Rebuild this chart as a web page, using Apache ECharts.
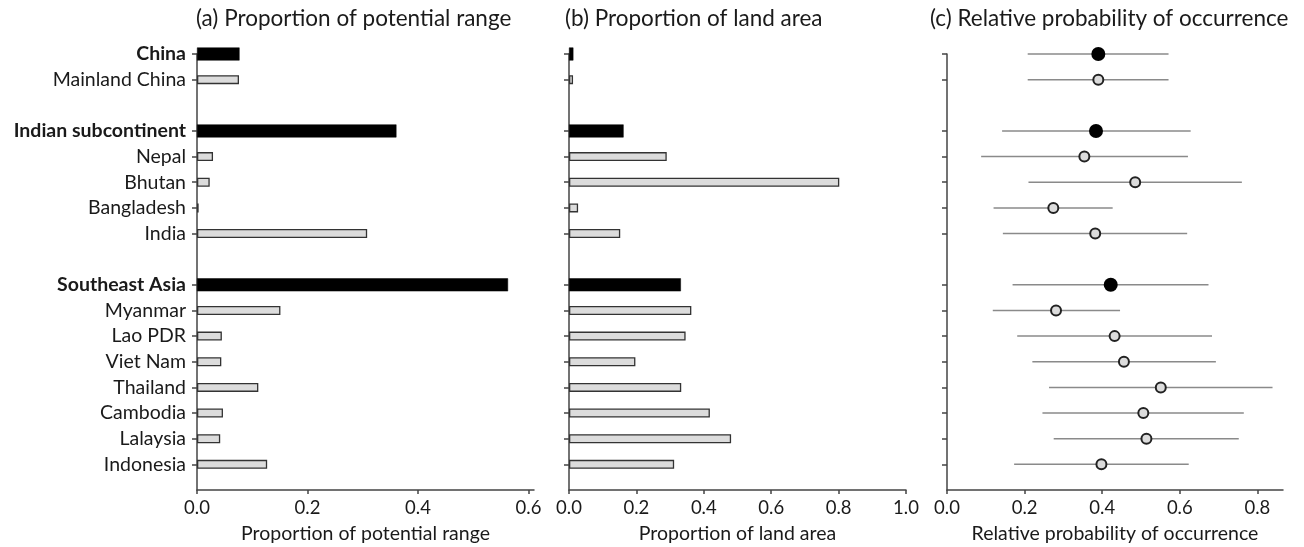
<!DOCTYPE html>
<html>
<head>
<meta charset="utf-8">
<script src="https://cdn.jsdelivr.net/npm/echarts@6/dist/echarts.min.js"></script>
<style>html,body{margin:0;padding:0;background:#fff;}#c{width:1304px;height:547px;}</style>
</head>
<body>
<div id="c"></div>
<script>
// Rows from top to bottom; blank strings are spacer rows between groups
const categories = ['China', 'Mainland China', ' ', 'Indian subcontinent', 'Nepal', 'Bhutan', 'Bangladesh', 'India', '  ', 'Southeast Asia', 'Myanmar', 'Lao PDR', 'Viet Nam', 'Thailand', 'Cambodia', 'Lalaysia', 'Indonesia', '   '];
const regionRows = ['China', 'Indian subcontinent', 'Southeast Asia'];
// (a) Proportion of potential range
const potentialRange = [0.077, 0.076, null, 0.361, 0.029, 0.023, 0.003, 0.308, null, 0.563, 0.151, 0.045, 0.044, 0.111, 0.047, 0.042, 0.127, null];
// (b) Proportion of land area
const landArea = [0.013, 0.012, null, 0.162, 0.290, 0.802, 0.027, 0.152, null, 0.332, 0.363, 0.346, 0.197, 0.333, 0.418, 0.481, 0.312, null];
// (c) Relative probability of occurrence: estimate, lower and upper bound
const probEst = [0.390, 0.390, null, 0.384, 0.354, 0.485, 0.274, 0.382, null, 0.422, 0.281, 0.432, 0.456, 0.551, 0.506, 0.514, 0.398, null];
const probLow = [0.208, 0.208, null, 0.142, 0.088, 0.210, 0.120, 0.144, null, 0.169, 0.118, 0.181, 0.220, 0.263, 0.246, 0.275, 0.173, null];
const probHigh = [0.571, 0.571, null, 0.628, 0.621, 0.760, 0.427, 0.619, null, 0.674, 0.446, 0.683, 0.693, 0.839, 0.765, 0.752, 0.623, null];
const ticksA = [0, 0.2, 0.4, 0.6];
const ticksB = [0, 0.2, 0.4, 0.6, 0.8, 1.0];
const ticksC = [0, 0.2, 0.4, 0.6, 0.8];

const FONT = 'Lato';
const TXT = '#1a1a1a';
const AX = '#444';
const isRegion = c => regionRows.indexOf(c) >= 0;
const regionVals = arr => arr.map((v, i) => (v != null && isRegion(categories[i])) ? v : '-');
const countryVals = arr => arr.map((v, i) => (v != null && !isRegion(categories[i])) ? v : '-');

function yAx(gridIndex, showLabels, visible) {
  return {
    type: 'category', gridIndex: gridIndex, data: categories, inverse: true, boundaryGap: false,
    show: visible,
    axisLine: {show: true, lineStyle: {color: AX, width: 1.5}},
    axisTick: {show: true, length: 5, inside: false, lineStyle: {color: AX, width: 1.5},
      interval: (idx, val) => val.trim() !== ''},
    axisLabel: {show: showLabels, margin: 11, fontFamily: FONT, fontSize: 19.5, color: TXT,
      interval: 0,
      formatter: v => isRegion(v) ? '{b|' + v + '}' : v,
      rich: {b: {fontFamily: FONT, fontSize: 19.5, fontWeight: 'bold', color: TXT}}},
    splitLine: {show: false}
  };
}
function xAx(gridIndex, max, ticks, name) {
  return {
    type: 'value', gridIndex: gridIndex, min: 0, max: max,
    name: name, nameLocation: 'middle', nameGap: 34,
    nameTextStyle: {fontFamily: FONT, fontSize: 19.5, color: TXT},
    axisLine: {show: true, lineStyle: {color: AX, width: 1.5}},
    axisTick: {show: true, length: 4, inside: false, lineStyle: {color: AX, width: 1.5}, customValues: ticks},
    axisLabel: {margin: 9, fontFamily: FONT, fontSize: 18.5, color: TXT, customValues: ticks,
      formatter: v => v.toFixed(1)},
    splitLine: {show: false}
  };
}
const titleStyle = {fontFamily: FONT, fontSize: 22.5, fontWeight: 'normal', color: TXT};

const errData = [];
const dotRegion = [];
const dotCountry = [];
categories.forEach((c, i) => {
  if (probEst[i] == null) return;
  errData.push([probLow[i], probHigh[i], i]);
  (isRegion(c) ? dotRegion : dotCountry).push([probEst[i], i]);
});

const chart = echarts.init(document.getElementById('c'), null, {renderer: 'canvas'});
chart.setOption({
  animation: false,
  backgroundColor: '#fff',
  title: [
    {text: '(a) Proportion of potential range', left: 196, top: 7, padding: 0, textStyle: titleStyle},
    {text: '(b) Proportion of land area', left: 565, top: 7, padding: 0, textStyle: titleStyle},
    {text: '(c) Relative probability of occurrence', left: 930, top: 7, padding: 0, textStyle: titleStyle}
  ],
  grid: [
    {left: 197, top: 54, width: 337, height: 436, outerBoundsMode: 'none'},
    {left: 569, top: 54, width: 337, height: 436, outerBoundsMode: 'none'},
    {left: 947, top: 54, width: 336, height: 436, outerBoundsMode: 'none'}
  ],
  xAxis: [
    xAx(0, 0.61, ticksA, 'Proportion of potential range'),
    xAx(1, 1.0, ticksB, 'Proportion of land area'),
    xAx(2, 0.866, ticksC, 'Relative probability of occurrence')
  ],
  yAxis: [
    yAx(0, true, true), yAx(0, false, false),
    yAx(1, false, true), yAx(1, false, false),
    yAx(2, false, true)
  ],
  series: [
    {type: 'bar', xAxisIndex: 0, yAxisIndex: 0, barWidth: 13, data: regionVals(potentialRange),
      itemStyle: {color: '#000', borderColor: '#000', borderWidth: 0.5}},
    {type: 'bar', xAxisIndex: 0, yAxisIndex: 1, barWidth: 9, data: countryVals(potentialRange),
      itemStyle: {color: '#dcdcdc', borderColor: '#333', borderWidth: 1.3}},
    {type: 'bar', xAxisIndex: 1, yAxisIndex: 2, barWidth: 13, data: regionVals(landArea),
      itemStyle: {color: '#000', borderColor: '#000', borderWidth: 0.5}},
    {type: 'bar', xAxisIndex: 1, yAxisIndex: 3, barWidth: 9, data: countryVals(landArea),
      itemStyle: {color: '#dcdcdc', borderColor: '#333', borderWidth: 1.3}},
    {type: 'custom', xAxisIndex: 2, yAxisIndex: 4, data: errData, encode: {x: [0, 1], y: 2},
      renderItem: (params, api) => {
        const a = api.coord([api.value(0), api.value(2)]);
        const b = api.coord([api.value(1), api.value(2)]);
        return {type: 'line', shape: {x1: a[0], y1: a[1], x2: b[0], y2: b[1]},
          style: {stroke: '#8a8a8a', lineWidth: 1.5}};
      }, z: 2},
    {type: 'scatter', xAxisIndex: 2, yAxisIndex: 4, data: dotRegion, symbolSize: 14,
      itemStyle: {color: '#000', opacity: 1}, z: 3},
    {type: 'scatter', xAxisIndex: 2, yAxisIndex: 4, data: dotCountry, symbolSize: 10,
      itemStyle: {color: '#dcdcdc', borderColor: '#222', borderWidth: 2, opacity: 1}, z: 3}
  ]
});
</script>
</body>
</html>
